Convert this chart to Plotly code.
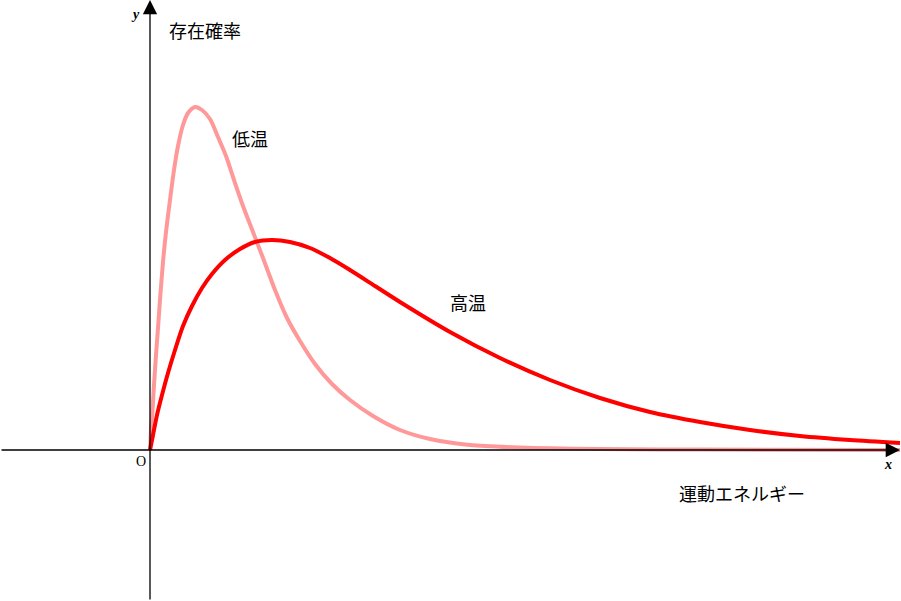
import plotly.graph_objects as go

# Low temperature curve (energy, probability)
low_x = [0, 1, 2.5, 4, 6, 8, 10, 13, 16, 20, 24, 28, 33, 38, 45, 52, 60, 68, 76, 84, 93, 103,
         113, 125, 137, 150, 165, 182, 200, 223, 250, 280, 320, 370, 450, 550, 750]
low_y = [0, 20, 40, 65, 95, 122, 150, 188, 218, 250, 280, 304, 325, 337, 343, 340, 331, 313, 294,
         270, 244, 218, 192, 160, 132, 109, 86, 66, 50, 34, 20, 11, 5, 2.5, 1, 0.4, 0]

# High temperature curve
high_x = [0, 3, 7, 12, 18, 25, 33, 42, 52, 62, 75, 90, 105, 122, 140, 160, 180, 200, 225, 250,
          300, 350, 400, 450, 500, 550, 600, 650, 700, 750]
high_y = [0, 15, 35, 55, 77, 100, 124, 144, 162, 176, 190, 201, 208, 210, 208, 202, 192, 180, 164,
          148, 118, 92, 70, 52, 38, 28, 20, 14, 10, 7]

labels = {"ylabel": "存在確率", "xlabel": "運動エネルギー", "low": "低温", "high": "高温"}

fig = go.Figure()
fig.add_trace(go.Scatter(x=low_x, y=low_y, mode="lines",
                         line=dict(color="#FF9999", width=4, shape="spline", smoothing=0.8),
                         hoverinfo="skip", showlegend=False))
fig.add_trace(go.Scatter(x=high_x, y=high_y, mode="lines",
                         line=dict(color="#FF0000", width=4, shape="spline", smoothing=0.8),
                         hoverinfo="skip", showlegend=False))

jp = "Noto Sans CJK JP"
serif = "Liberation Serif"

anns = [
    # axes with arrowheads
    dict(x=750, y=0, ax=-150, ay=0, xref="x", yref="y", axref="x", ayref="y", text="",
         showarrow=True, arrowhead=2, arrowsize=2.2, arrowwidth=1.3, arrowcolor="black"),
    dict(x=0, y=450, ax=0, ay=-151, xref="x", yref="y", axref="x", ayref="y", text="",
         showarrow=True, arrowhead=2, arrowsize=2.2, arrowwidth=1.3, arrowcolor="black"),
    dict(x=17, y=420, text=labels["ylabel"], xanchor="left", yanchor="middle", showarrow=False,
         font=dict(family=jp, size=18, color="black")),
    dict(x=100, y=312, text=labels["low"], showarrow=False, font=dict(family=jp, size=18, color="black")),
    dict(x=318, y=148, text=labels["high"], showarrow=False, font=dict(family=jp, size=18, color="black")),
    dict(x=592, y=-43, text=labels["xlabel"], showarrow=False, font=dict(family=jp, size=18, color="black")),
    dict(x=-15, y=436, text="<b><i>y</i></b>", showarrow=False, font=dict(family=serif, size=14, color="black")),
    dict(x=738, y=-14, text="<b><i>x</i></b>", showarrow=False, font=dict(family=serif, size=14, color="black")),
    dict(x=-9, y=-11, text="O", showarrow=False, font=dict(family=serif, size=14, color="black")),
]

fig.update_layout(
    width=901, height=601, margin=dict(l=0, r=0, t=0, b=0),
    paper_bgcolor="white", plot_bgcolor="white",
    xaxis=dict(range=[-150, 751], visible=False, fixedrange=True),
    yaxis=dict(range=[-151, 450], visible=False, fixedrange=True),
    annotations=anns, showlegend=False,
)
fig.write_html("out.html")
